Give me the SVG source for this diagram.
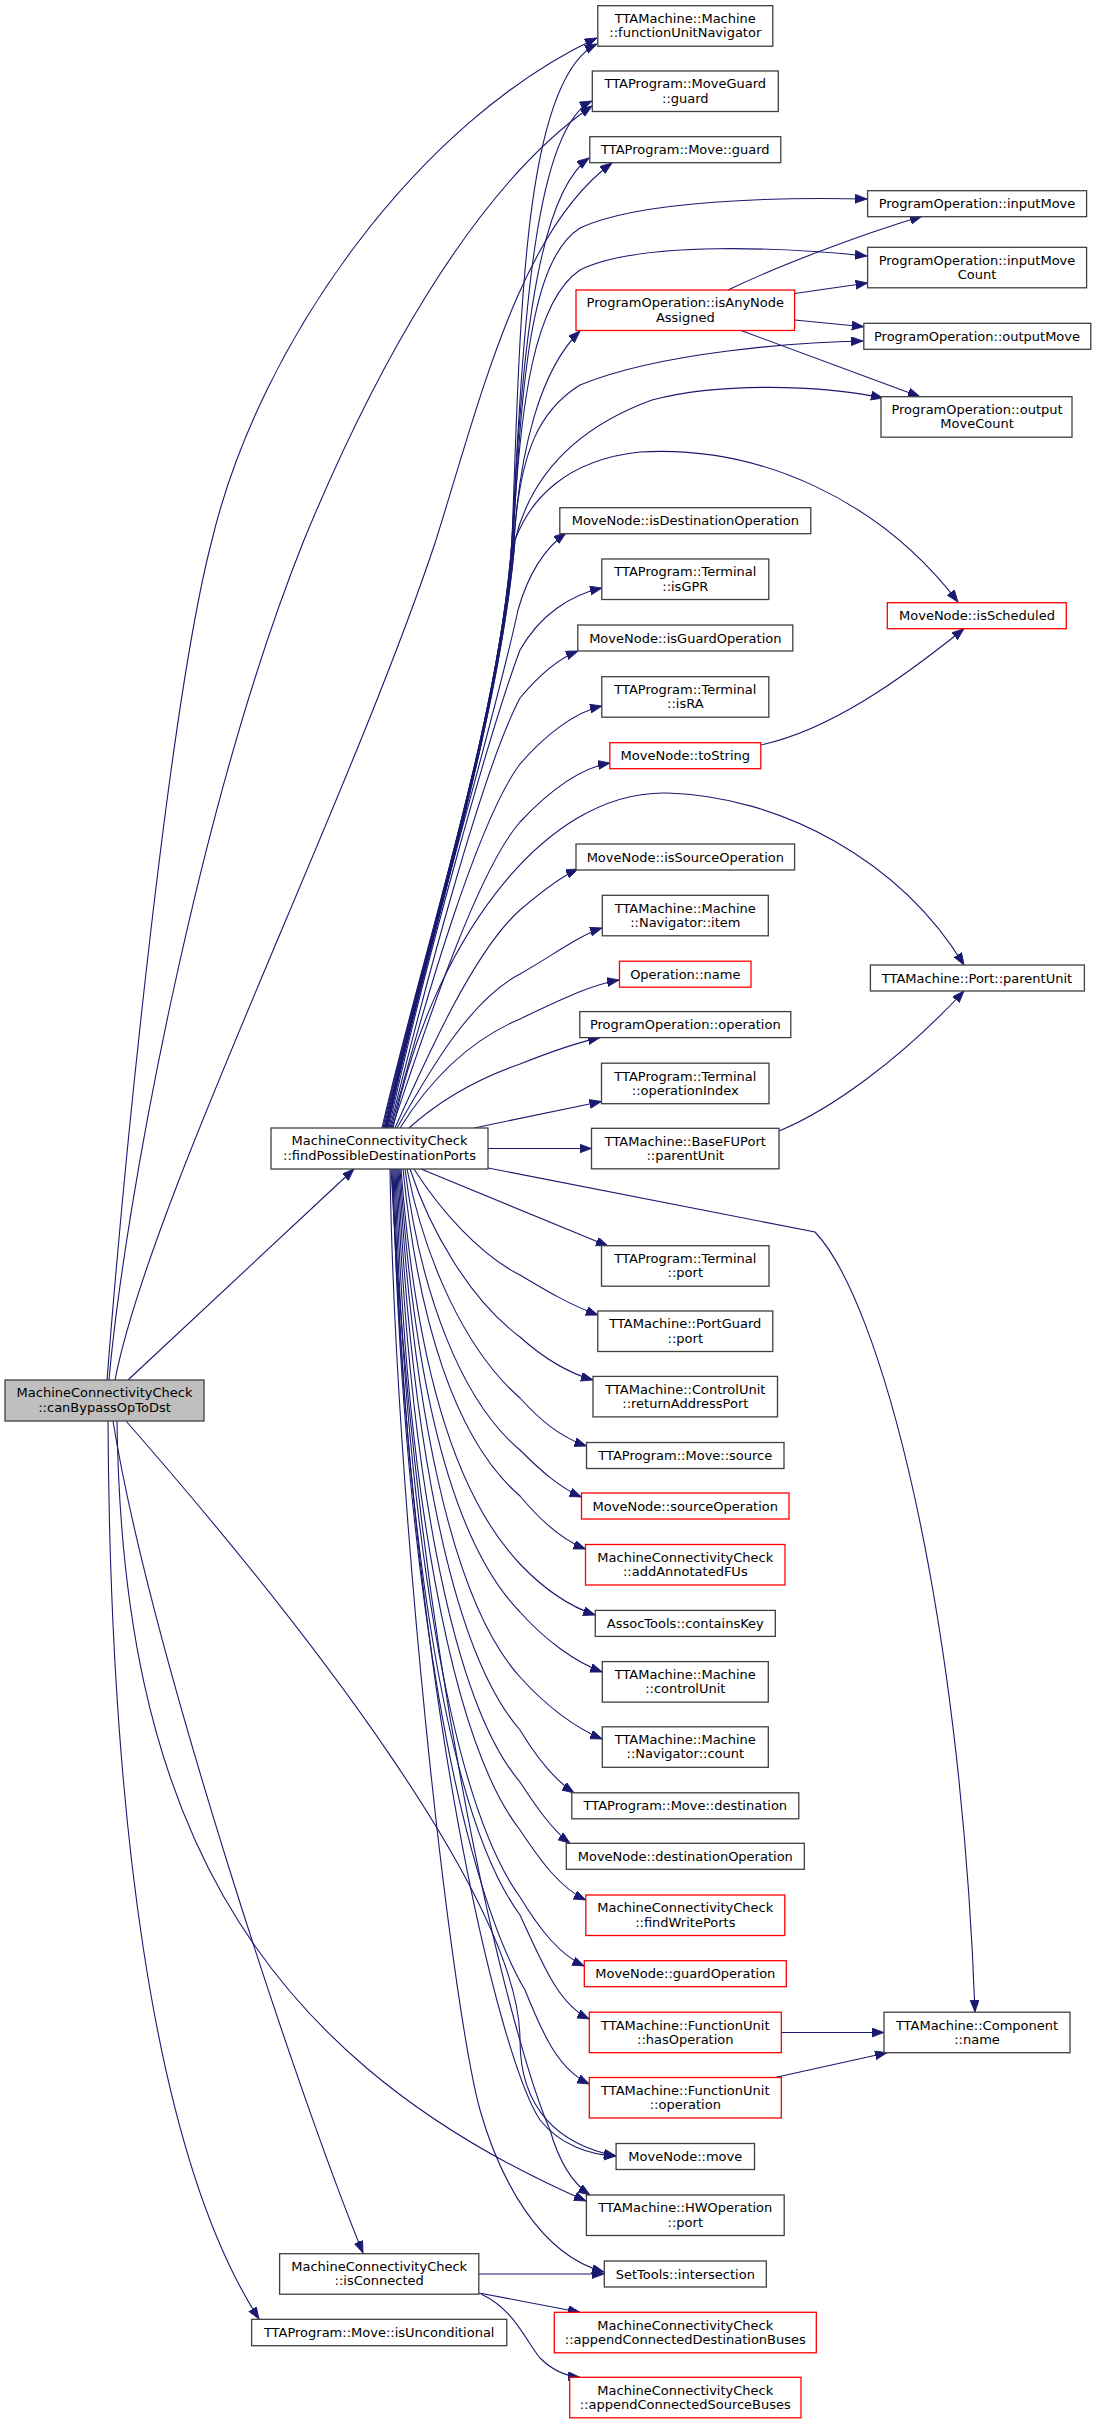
<svg xmlns="http://www.w3.org/2000/svg" width="1096" height="2424" viewBox="0 0 1096 2424">
<style>
.n rect{fill:#fff;stroke:#404040;stroke-width:1.3}
.n.r rect{stroke:#ff0000}
.n.g rect{fill:#bfbfbf}
.n text{font-family:"DejaVu Sans","Noto Sans",sans-serif;font-size:13px;text-anchor:middle;fill:#000}
#edges path{fill:none;stroke:#191970;stroke-width:1.1;marker-end:url(#a)}
</style>
<defs>
<marker id="a" markerWidth="13" markerHeight="10" refX="12" refY="4.5" orient="auto" markerUnits="userSpaceOnUse">
<path d="M0,0 L12,4.5 L0,9 z" fill="#191970" stroke="#191970" stroke-width="0.8"/>
</marker>
</defs>
<rect x="0" y="0" width="1096" height="2424" fill="#fff"/>
<g id="edges">
<path d="M107,1380 C125,1150 170,700 212,540 C260,340 420,120 597,38"/>
<path d="M109,1380 C125,1200 200,800 304,540 C370,380 470,190 592,106"/>
<path d="M115,1380 C150,1200 350,800 436,540 C480,400 520,230 612,163"/>
<path d="M128,1380 L354,1169"/>
<path d="M126,1421 C300,1620 520,1900 520,2040 C520,2110 560,2145 616,2156"/>
<path d="M117,1421 C122,1800 240,2050 586,2201"/>
<path d="M113,1421 C150,1650 300,2100 363,2253"/>
<path d="M108,1421 C110,1800 150,2150 259,2319"/>
<path d="M382,1128 C420,960 500,720 512,540 C520,330 522,80 597,44"/>
<path d="M383,1128 C420,960 500,720 512,540 C522,360 530,130 592,101"/>
<path d="M384,1128 C420,960 500,720 512,540 C520,400 530,200 589,158"/>
<path d="M385,1128 C421,960 500,720 513,540 C522,380 530,260 580,228 C640,200 780,197 867,199"/>
<path d="M385,1128 C421,960 500,720 513,540 C520,400 535,300 580,270 C640,240 790,248 867,256"/>
<path d="M386,1128 C422,960 500,720 514,540 C520,450 540,370 580,331"/>
<path d="M386,1128 C422,960 500,720 514,540 C520,450 540,410 580,385 C660,352 800,342 863,341"/>
<path d="M387,1128 C423,960 500,720 515,540 C530,480 570,430 652,400 C720,382 820,385 883,398"/>
<path d="M387,1128 C423,960 500,720 515,540 C530,500 565,460 640,452 C760,445 880,500 958,602"/>
<path d="M388,1128 C422,960 495,720 518,610 C528,575 545,548 566,533"/>
<path d="M389,1128 C423,970 490,730 520,650 C540,615 570,595 602,588"/>
<path d="M390,1128 C424,990 482,770 520,698 C535,680 555,660 578,651"/>
<path d="M391,1128 C425,1000 478,820 520,764 C545,735 575,712 602,706"/>
<path d="M392,1128 C428,1020 478,870 520,822 C550,790 580,768 610,763"/>
<path d="M393,1128 C430,950 540,790 667,793 C780,796 900,860 964,965"/>
<path d="M395,1128 C430,1050 475,950 520,910 C540,893 560,877 578,869"/>
<path d="M397,1128 C430,1070 470,1000 520,974 C550,957 580,935 602,928"/>
<path d="M400,1128 C430,1080 470,1040 520,1019 C560,1000 590,985 619,980"/>
<path d="M409,1128 C440,1100 480,1078 520,1064 C550,1052 575,1043 600,1037.6"/>
<path d="M474,1128 L601.5,1101.5"/>
<path d="M488,1148.5 L591.5,1148.5"/>
<path d="M488,1168 L815,1232 C880,1300 960,1600 975,2012"/>
<path d="M421,1169 L608,1246"/>
<path d="M414,1169 C440,1210 480,1255 520,1275 C545,1290 570,1305 598,1315"/>
<path d="M410,1169 C430,1230 470,1300 520,1337 C540,1355 565,1372 593,1380"/>
<path d="M407,1169 C425,1260 465,1350 520,1398 C540,1420 560,1437 586.5,1446"/>
<path d="M405,1169 C420,1290 460,1400 520,1450 C540,1470 560,1488 581.5,1497"/>
<path d="M403,1169 C418,1320 455,1440 520,1496 C540,1520 562,1540 585.5,1549"/>
<path d="M401,1169 C415,1350 450,1490 520,1564 C540,1585 565,1605 595.3,1615"/>
<path d="M400,1169 C414,1380 450,1540 520,1612 C545,1640 575,1662 602.3,1672"/>
<path d="M399,1169 C412,1400 450,1600 520,1677 C545,1705 575,1728 602.3,1739"/>
<path d="M398,1169 C410,1430 450,1650 520,1730 C535,1755 555,1780 574,1793"/>
<path d="M397,1169 C408,1460 450,1700 520,1782 C535,1805 552,1830 570,1843.3"/>
<path d="M396,1169 C405,1480 450,1740 520,1830 C540,1860 560,1888 585.8,1900"/>
<path d="M395,1169 C404,1520 450,1800 520,1897 C540,1930 560,1955 584.3,1966"/>
<path d="M394,1169 C403,1550 450,1820 520,1915 C545,1970 560,2005 589.3,2019"/>
<path d="M393,1169 C402,1580 460,1880 525,1990 C545,2040 560,2070 589.3,2084"/>
<path d="M392,1169 C410,1700 500,2060 540,2120 C560,2145 590,2155 616,2156"/>
<path d="M391,1169 C420,1700 515,2050 550,2130 C560,2165 575,2185 590,2195"/>
<path d="M390,1169 C395,1500 450,2000 480,2110 C500,2180 540,2255 604,2272"/>
<path d="M728,290 C780,265 860,235 922,216.3"/>
<path d="M794.6,293.5 L867.6,283"/>
<path d="M794.6,320 L863.8,326.7"/>
<path d="M741,330.5 L920,396.7"/>
<path d="M760.7,745 C830,730 900,680 964,628.7"/>
<path d="M779,1131 C830,1110 900,1060 964,991"/>
<path d="M781,2032.5 L884,2032.5"/>
<path d="M775,2077.5 L887,2052.7"/>
<path d="M479,2274 L604,2274"/>
<path d="M479,2293 L580,2312.3"/>
<path d="M481,2294 C515,2310 525,2340 540,2358 C552,2370 565,2376 580,2377.3"/>
</g>
<g id="canBypassOpToDst" class="n g"><rect x="5" y="1380" width="199" height="41"/><text x="104.5" y="1397.3">MachineConnectivityCheck</text><text x="104.5" y="1411.5">::canBypassOpToDst</text></g>
<g id="findPossibleDestinationPorts" class="n"><rect x="271" y="1128" width="217" height="41"/><text x="379.5" y="1145.3">MachineConnectivityCheck</text><text x="379.5" y="1159.5">::findPossibleDestinationPorts</text></g>
<g id="isConnected" class="n"><rect x="279.6" y="2253.7" width="199.2" height="40.5"/><text x="379.2" y="2271">MachineConnectivityCheck</text><text x="379.2" y="2285.2">::isConnected</text></g>
<g id="isUnconditional" class="n"><rect x="251.6" y="2319.3" width="255.2" height="26.4"/><text x="379.2" y="2336.8">TTAProgram::Move::isUnconditional</text></g>
<g id="functionUnitNavigator" class="n"><rect x="597.8" y="5.7" width="175" height="40.5"/><text x="685.3" y="23">TTAMachine::Machine</text><text x="685.3" y="37.2">::functionUnitNavigator</text></g>
<g id="MoveGuard_guard" class="n"><rect x="592.3" y="71" width="186" height="40.5"/><text x="685.3" y="88.3">TTAProgram::MoveGuard</text><text x="685.3" y="102.5">::guard</text></g>
<g id="Move_guard" class="n"><rect x="589.8" y="136.7" width="191" height="26"/><text x="685.3" y="154.2">TTAProgram::Move::guard</text></g>
<g id="isAnyNodeAssigned" class="n r"><rect x="576" y="290" width="218.6" height="40.5"/><text x="685.3" y="307.3">ProgramOperation::isAnyNode</text><text x="685.3" y="321.5">Assigned</text></g>
<g id="isDestinationOperation" class="n"><rect x="559.8" y="507.7" width="251" height="26"/><text x="685.3" y="525.2">MoveNode::isDestinationOperation</text></g>
<g id="isGPR" class="n"><rect x="601.8" y="559" width="167" height="40.5"/><text x="685.3" y="576.3">TTAProgram::Terminal</text><text x="685.3" y="590.5">::isGPR</text></g>
<g id="isGuardOperation" class="n"><rect x="577.8" y="625" width="215" height="26"/><text x="685.3" y="642.5">MoveNode::isGuardOperation</text></g>
<g id="isRA" class="n"><rect x="601.8" y="676.7" width="167" height="40.5"/><text x="685.3" y="694">TTAProgram::Terminal</text><text x="685.3" y="708.2">::isRA</text></g>
<g id="toString" class="n r"><rect x="609.8" y="742.7" width="151" height="26"/><text x="685.3" y="760.2">MoveNode::toString</text></g>
<g id="isSourceOperation" class="n"><rect x="576" y="844" width="218.6" height="26"/><text x="685.3" y="861.5">MoveNode::isSourceOperation</text></g>
<g id="Navigator_item" class="n"><rect x="602.3" y="895.3" width="166" height="40.5"/><text x="685.3" y="912.6">TTAMachine::Machine</text><text x="685.3" y="926.8">::Navigator::item</text></g>
<g id="Operation_name" class="n r"><rect x="619.5" y="961.2" width="131.5" height="26"/><text x="685.3" y="978.7">Operation::name</text></g>
<g id="PO_operation" class="n"><rect x="579.8" y="1011.6" width="211" height="26"/><text x="685.3" y="1029.1">ProgramOperation::operation</text></g>
<g id="operationIndex" class="n"><rect x="601.5" y="1063.2" width="167.5" height="40.5"/><text x="685.3" y="1080.5">TTAProgram::Terminal</text><text x="685.3" y="1094.7">::operationIndex</text></g>
<g id="BaseFUPort_parentUnit" class="n"><rect x="591.5" y="1128.3" width="187.5" height="40.5"/><text x="685.3" y="1145.6">TTAMachine::BaseFUPort</text><text x="685.3" y="1159.8">::parentUnit</text></g>
<g id="Terminal_port" class="n"><rect x="601.5" y="1245.7" width="167.5" height="40.5"/><text x="685.3" y="1263">TTAProgram::Terminal</text><text x="685.3" y="1277.2">::port</text></g>
<g id="PortGuard_port" class="n"><rect x="597.8" y="1311" width="175" height="40.5"/><text x="685.3" y="1328.3">TTAMachine::PortGuard</text><text x="685.3" y="1342.5">::port</text></g>
<g id="returnAddressPort" class="n"><rect x="593" y="1376.4" width="184.5" height="40.5"/><text x="685.3" y="1393.7">TTAMachine::ControlUnit</text><text x="685.3" y="1407.9">::returnAddressPort</text></g>
<g id="Move_source" class="n"><rect x="586.5" y="1442.5" width="197.5" height="26"/><text x="685.3" y="1460">TTAProgram::Move::source</text></g>
<g id="sourceOperation" class="n r"><rect x="581.5" y="1493" width="207.5" height="26"/><text x="685.3" y="1510.5">MoveNode::sourceOperation</text></g>
<g id="addAnnotatedFUs" class="n r"><rect x="585.5" y="1544.5" width="199.5" height="40.5"/><text x="685.3" y="1561.8">MachineConnectivityCheck</text><text x="685.3" y="1576">::addAnnotatedFUs</text></g>
<g id="containsKey" class="n"><rect x="595.3" y="1610.4" width="180" height="26"/><text x="685.3" y="1627.9">AssocTools::containsKey</text></g>
<g id="controlUnit" class="n"><rect x="602.3" y="1661.6" width="166" height="40.5"/><text x="685.3" y="1678.9">TTAMachine::Machine</text><text x="685.3" y="1693.1">::controlUnit</text></g>
<g id="Navigator_count" class="n"><rect x="602.3" y="1726.8" width="166" height="40.5"/><text x="685.3" y="1744.1">TTAMachine::Machine</text><text x="685.3" y="1758.3">::Navigator::count</text></g>
<g id="Move_destination" class="n"><rect x="571.8" y="1792.8" width="227" height="26"/><text x="685.3" y="1810.3">TTAProgram::Move::destination</text></g>
<g id="destinationOperation" class="n"><rect x="566.3" y="1843.3" width="238" height="26"/><text x="685.3" y="1860.8">MoveNode::destinationOperation</text></g>
<g id="findWritePorts" class="n r"><rect x="585.8" y="1895" width="199" height="40.5"/><text x="685.3" y="1912.3">MachineConnectivityCheck</text><text x="685.3" y="1926.5">::findWritePorts</text></g>
<g id="guardOperation" class="n r"><rect x="584.3" y="1960.7" width="202" height="26"/><text x="685.3" y="1978.2">MoveNode::guardOperation</text></g>
<g id="hasOperation" class="n r"><rect x="589.3" y="2012.2" width="192" height="40.5"/><text x="685.3" y="2029.5">TTAMachine::FunctionUnit</text><text x="685.3" y="2043.7">::hasOperation</text></g>
<g id="FU_operation" class="n r"><rect x="589.3" y="2077.5" width="192" height="40.5"/><text x="685.3" y="2094.8">TTAMachine::FunctionUnit</text><text x="685.3" y="2109">::operation</text></g>
<g id="MoveNode_move" class="n"><rect x="616.1" y="2143.5" width="138.4" height="26"/><text x="685.3" y="2161">MoveNode::move</text></g>
<g id="HWOperation_port" class="n"><rect x="586.4" y="2195" width="197.8" height="40.5"/><text x="685.3" y="2212.3">TTAMachine::HWOperation</text><text x="685.3" y="2226.5">::port</text></g>
<g id="SetTools_intersection" class="n"><rect x="604.3" y="2261" width="162" height="26"/><text x="685.3" y="2278.5">SetTools::intersection</text></g>
<g id="appendConnectedDestinationBuses" class="n r"><rect x="554.3" y="2312.3" width="262" height="40.5"/><text x="685.3" y="2329.6">MachineConnectivityCheck</text><text x="685.3" y="2343.8">::appendConnectedDestinationBuses</text></g>
<g id="appendConnectedSourceBuses" class="n r"><rect x="569.7" y="2377.3" width="231.3" height="40.5"/><text x="685.3" y="2394.6">MachineConnectivityCheck</text><text x="685.3" y="2408.8">::appendConnectedSourceBuses</text></g>
<g id="inputMove" class="n"><rect x="867.6" y="190.7" width="219" height="26"/><text x="977" y="208.2">ProgramOperation::inputMove</text></g>
<g id="inputMoveCount" class="n"><rect x="867.6" y="247.3" width="219" height="40.5"/><text x="977" y="264.6">ProgramOperation::inputMove</text><text x="977" y="278.8">Count</text></g>
<g id="outputMove" class="n"><rect x="863.8" y="323.3" width="227" height="26"/><text x="977" y="340.8">ProgramOperation::outputMove</text></g>
<g id="outputMoveCount" class="n"><rect x="881" y="396.7" width="191" height="40.5"/><text x="977" y="414">ProgramOperation::output</text><text x="977" y="428.2">MoveCount</text></g>
<g id="isScheduled" class="n r"><rect x="887.3" y="602.7" width="179" height="26"/><text x="977" y="620.2">MoveNode::isScheduled</text></g>
<g id="Port_parentUnit" class="n"><rect x="870.4" y="965" width="214" height="26"/><text x="977" y="982.5">TTAMachine::Port::parentUnit</text></g>
<g id="Component_name" class="n"><rect x="884" y="2012.2" width="186" height="40.5"/><text x="977" y="2029.5">TTAMachine::Component</text><text x="977" y="2043.7">::name</text></g>
</svg>
